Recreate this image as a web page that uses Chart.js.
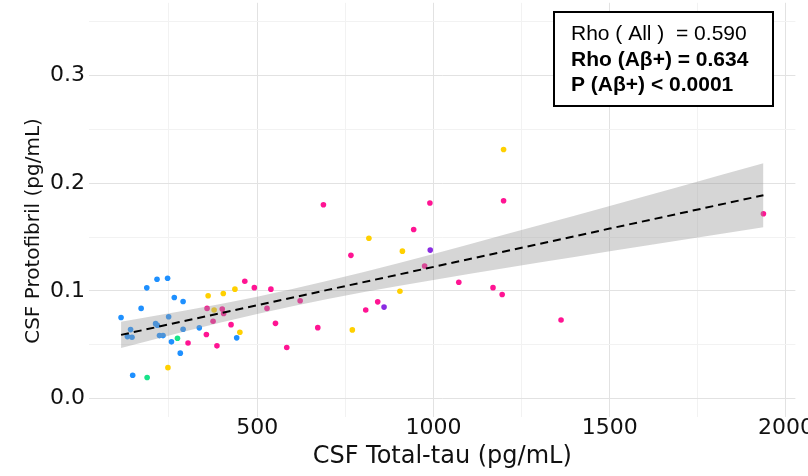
<!DOCTYPE html>
<html>
<head>
<meta charset="utf-8">
<script src="https://cdn.jsdelivr.net/npm/chart.js@4/dist/chart.umd.min.js"></script>
<style>
html,body{margin:0;padding:0;background:#fff;overflow:hidden;}
#wrap{width:808px;height:476px;}
canvas{display:block;}
</style>
</head>
<body>
<div id="wrap"><canvas id="c" width="808" height="476"></canvas></div>
<script>
// ---- data ----
const tauBlue   = [114,171,187,216,246,265,290,249,212,217,141,132,145,223,233,290,336,257,282,147,442];
const protoBlue = [0.0753,0.0837,0.1028,0.1108,0.1117,0.0938,0.0901,0.0760,0.0695,0.0680,0.0640,0.0575,0.0569,0.0584,0.0584,0.0643,0.0656,0.0526,0.0421,0.0215,0.0563];

const tauGreen   = [274,188];
const protoGreen = [0.0560,0.0194];

const tauYellow   = [247,361,404,437,378,451,770,905,912,817,1199];
const protoYellow = [0.0286,0.0954,0.0975,0.1016,0.0822,0.0615,0.0637,0.0997,0.1369,0.1489,0.2314];

const tauPurple   = [860,991];
const protoPurple = [0.0849,0.1379];

const tauPink   = [465,492,539,358,401,405,375,426,528,552,356,304,386,584,622,688,990,1199,944,766,975,1072,1169,1195,842,808,672,1362,1936];
const protoPink = [0.1090,0.1030,0.1016,0.0837,0.0831,0.0790,0.0718,0.0686,0.0837,0.0698,0.0594,0.0515,0.0489,0.0474,0.0908,0.1801,0.1817,0.1838,0.1570,0.1330,0.1231,0.1080,0.1030,0.0966,0.0898,0.0822,0.0658,0.0729,0.1717];

// fitted line and its confidence band
const fitTau   = [114,300,500,700,900,1100,1300,1500,1700,1936];
const fitProto = [0.0591,0.0724,0.0866,0.1009,0.1151,0.1294,0.1436,0.1579,0.1721,0.1889];
const fitLower = [0.0469,0.0628,0.0786,0.0925,0.1045,0.1157,0.1263,0.1368,0.1471,0.1592];
const fitUpper = [0.0713,0.0820,0.0946,0.1093,0.1257,0.1431,0.1609,0.1790,0.1971,0.2186];

// ticks
const xTickValues = [250,500,750,1000,1250,1500,1750,2000];
const xTickLabels = ['','500','','1000','','1500','','2000'];
const yTickValues = [0,0.05,0.1,0.15,0.2,0.25,0.3,0.35];
const yTickLabels = ['0.0','','0.1','','0.2','','0.3',''];

const xTitle = 'CSF Total-tau (pg/mL)';
const yTitle = 'CSF Protofibril (pg/mL)';
const statLines = ['Rho ( All )  = 0.590', 'Rho (A\u03b2+) = 0.634', 'P (A\u03b2+) < 0.0001'];

// ---- drawing ----
const pts = (xs, ys) => xs.map((x, i) => ({x: x, y: ys[i]}));
const MAJOR = '#e2e2e2', MINOR = '#f2f2f2', TXT = '#111111';

function scatterSet(label, xs, ys, color) {
  return {type: 'scatter', label: label, data: pts(xs, ys), backgroundColor: color,
          borderWidth: 0, pointRadius: 2.8, pointHoverRadius: 2.8, order: 3};
}

const yTitlePlugin = {
  id: 'yTitleText',
  afterDraw(chart) {
    const c = chart.ctx;
    c.save();
    c.translate(34, 231);
    c.rotate(-Math.PI / 2);
    c.font = '20px "DejaVu Sans"';
    c.fillStyle = TXT;
    c.textAlign = 'center';
    c.textBaseline = 'middle';
    c.fillText(yTitle, 0, 0);
    c.restore();
  }
};

const statBoxPlugin = {
  id: 'statBox',
  afterDraw(chart) {
    const c = chart.ctx;
    c.save();
    c.fillStyle = '#ffffff';
    c.fillRect(554, 12, 219, 94);
    c.lineWidth = 2;
    c.strokeStyle = '#000000';
    c.strokeRect(554, 12, 219, 94);
    c.fillStyle = '#000000';
    c.textAlign = 'left';
    c.textBaseline = 'alphabetic';
    const base = [40, 65.5, 91];
    statLines.forEach((t, i) => {
      c.font = (i === 0 ? '' : 'bold ') + '21px "Liberation Sans", Arial, sans-serif';
      c.fillText(t, 571, base[i]);
    });
    c.restore();
  }
};

new Chart(document.getElementById('c'), {
  type: 'scatter',
  data: {
    datasets: [
      scatterSet('Group blue', tauBlue, protoBlue, '#1E90FF'),
      scatterSet('Group green', tauGreen, protoGreen, '#18E38A'),
      scatterSet('Group yellow', tauYellow, protoYellow, '#FFD000'),
      scatterSet('Group purple', tauPurple, protoPurple, '#8A2BE2'),
      scatterSet('Group pink', tauPink, protoPink, '#FF1493'),
      {type: 'line', label: 'CI lower', data: pts(fitTau, fitLower), borderWidth: 0, borderColor: 'rgba(0,0,0,0)',
       pointRadius: 0, fill: false, cubicInterpolationMode: 'monotone', order: 2},
      {type: 'line', label: 'CI upper', data: pts(fitTau, fitUpper), borderWidth: 0, borderColor: 'rgba(0,0,0,0)',
       backgroundColor: 'rgba(153,153,153,0.4)', pointRadius: 0, fill: '-1', cubicInterpolationMode: 'monotone', order: 2},
      {type: 'line', label: 'Fit', data: pts(fitTau, fitProto), borderColor: '#000000', borderWidth: 2,
       borderDash: [8, 5], pointRadius: 0, fill: false, order: 1}
    ]
  },
  options: {
    responsive: false,
    animation: false,
    devicePixelRatio: 1,
    events: [],
    layout: {padding: {left: 0, right: 12.6, top: 0, bottom: 0}},
    plugins: {legend: {display: false}, tooltip: {enabled: false}},
    scales: {
      x: {
        type: 'linear', min: 23.1, max: 2026.7,
        afterBuildTicks: s => { s.ticks = xTickValues.map(v => ({value: v})); },
        afterFit: s => { s.height = 58.7; s.paddingLeft = 0; s.paddingRight = 0; },
        ticks: {autoSkip: false, maxRotation: 0, minRotation: 0, padding: 0, color: TXT,
                font: {family: 'DejaVu Sans', size: 22, lineHeight: 1},
                callback: (v, i) => xTickLabels[i]},
        grid: {color: ctx => (ctx.index % 2 === 0 ? MINOR : MAJOR), lineWidth: 1, drawTicks: false},
        border: {display: false},
        title: {display: true, text: xTitle, color: TXT, font: {family: 'DejaVu Sans', size: 24},
                padding: {top: 0, bottom: 5}}
      },
      y: {
        type: 'linear', min: -0.01754, max: 0.3678,
        afterBuildTicks: s => { s.ticks = yTickValues.map(v => ({value: v})); },
        afterFit: s => { s.width = 89; s.paddingTop = 0; s.paddingBottom = 0; },
        ticks: {autoSkip: false, padding: 4, color: TXT,
                font: {family: 'DejaVu Sans', size: 22, lineHeight: 1},
                callback: (v, i) => yTickLabels[i]},
        grid: {color: ctx => (ctx.index % 2 === 0 ? MAJOR : MINOR), lineWidth: 1, drawTicks: false},
        border: {display: false}
      }
    }
  },
  plugins: [yTitlePlugin, statBoxPlugin]
});
</script>
</body>
</html>
